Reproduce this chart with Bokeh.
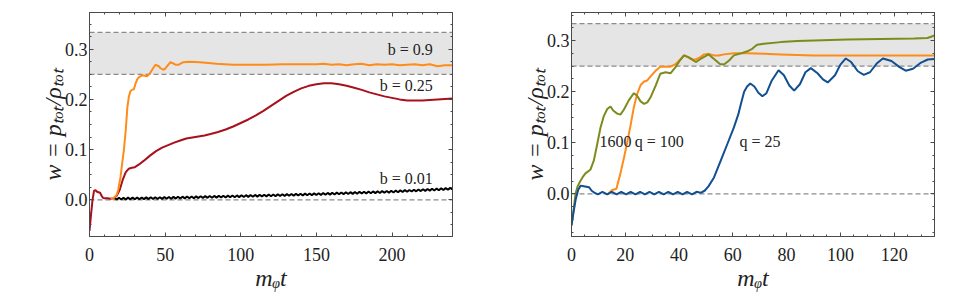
from bokeh.plotting import figure
from bokeh.layouts import row
from bokeh.models import (LinearAxis, SingleIntervalTicker, BoxAnnotation, Span,
                          Range1d, PrintfTickFormatter, Label)
from bokeh.embed import file_html
from bokeh.resources import INLINE

# ---------------- data: left panel (b values) ----------------
left_red_t = [0, 1, 2, 3, 4, 5, 6, 7, 8, 9,
              10, 12, 14, 16, 18, 20, 22, 24, 26, 28,
              30, 33, 36, 40, 44, 48, 52, 56, 60, 64,
              68, 72, 76, 80, 85, 90, 95, 100, 105, 110,
              115, 120, 125, 130, 135, 140, 145, 150, 155, 160,
              165, 170, 175, 180, 185, 190, 195, 200, 205, 210,
              215, 220, 225, 230, 235, 240]
left_red_w = [-0.062, -0.03, 0.0, 0.018, 0.019, 0.016, 0.015, 0.014, 0.008, 0.004,
              0.003, 0.003, 0.002, 0.003, 0.008, 0.02, 0.04, 0.055, 0.062, 0.064,
              0.065, 0.071, 0.078, 0.088, 0.097, 0.104, 0.109, 0.114, 0.118, 0.122,
              0.124, 0.126, 0.128, 0.131, 0.135, 0.14, 0.146, 0.153, 0.16, 0.168,
              0.177, 0.187, 0.197, 0.207, 0.215, 0.222, 0.227, 0.23, 0.232, 0.232,
              0.23, 0.227, 0.223, 0.219, 0.214, 0.21, 0.206, 0.203, 0.2, 0.198,
              0.198, 0.198, 0.199, 0.2, 0.201, 0.202]

left_orange_t = [14, 15, 16.5, 18, 19, 20.5, 21.5, 22.7, 24, 25,
                 26, 27, 28, 29.3, 30.5, 31.5, 33, 34.8, 36.5, 38,
                 40, 42, 43.6, 45.8, 47, 48.7, 50, 51.3, 53.5, 55,
                 56.8, 59, 62, 66, 73, 84, 95, 105, 117, 128,
                 139, 150, 155, 160, 165, 170, 175, 180, 185, 190,
                 195, 200, 205, 210, 215, 220, 225, 230, 235, 240]
left_orange_w = [0.002, 0.003, 0.005, 0.01, 0.02, 0.045, 0.07, 0.098, 0.14, 0.183,
                 0.205, 0.216, 0.219, 0.22, 0.232, 0.24, 0.245, 0.248, 0.247, 0.246,
                 0.252, 0.262, 0.269, 0.266, 0.262, 0.259, 0.261, 0.266, 0.274, 0.272,
                 0.269, 0.269, 0.274, 0.275, 0.274, 0.271, 0.269, 0.269, 0.269, 0.27,
                 0.27, 0.27, 0.271, 0.269, 0.27, 0.268, 0.27, 0.271, 0.268, 0.27,
                 0.269, 0.27, 0.268, 0.269, 0.27, 0.268, 0.27, 0.266, 0.268, 0.268]

left_black_t = [16.5, 18.0, 19.5, 21.0, 22.5, 24.0, 25.5, 27.0, 28.5, 30.0,
                31.5, 33.0, 34.5, 36.0, 37.5, 39.0, 40.5, 42.0, 43.5, 45.0,
                46.5, 48.0, 49.5, 51.0, 52.5, 54.0, 55.5, 57.0, 58.5, 60.0,
                61.5, 63.0, 64.5, 66.0, 67.5, 69.0, 70.5, 72.0, 73.5, 75.0,
                76.5, 78.0, 79.5, 81.0, 82.5, 84.0, 85.5, 87.0, 88.5, 90.0,
                91.5, 93.0, 94.5, 96.0, 97.5, 99.0, 100.5, 102.0, 103.5, 105.0,
                106.5, 108.0, 109.5, 111.0, 112.5, 114.0, 115.5, 117.0, 118.5, 120.0,
                121.5, 123.0, 124.5, 126.0, 127.5, 129.0, 130.5, 132.0, 133.5, 135.0,
                136.5, 138.0, 139.5, 141.0, 142.5, 144.0, 145.5, 147.0, 148.5, 150.0,
                151.5, 153.0, 154.5, 156.0, 157.5, 159.0, 160.5, 162.0, 163.5, 165.0,
                166.5, 168.0, 169.5, 171.0, 172.5, 174.0, 175.5, 177.0, 178.5, 180.0,
                181.5, 183.0, 184.5, 186.0, 187.5, 189.0, 190.5, 192.0, 193.5, 195.0,
                196.5, 198.0, 199.5, 201.0, 202.5, 204.0, 205.5, 207.0, 208.5, 210.0,
                211.5, 213.0, 214.5, 216.0, 217.5, 219.0, 220.5, 222.0, 223.5, 225.0,
                226.5, 228.0, 229.5, 231.0, 232.5, 234.0, 235.5, 237.0, 238.5, 240.0]
left_black_w = [0.0040, 0.0006, 0.0041, 0.0007, 0.0043, 0.0008, 0.0044, 0.0010, 0.0045, 0.0011,
                0.0047, 0.0012, 0.0048, 0.0014, 0.0049, 0.0015, 0.0051, 0.0016, 0.0052, 0.0018,
                0.0053, 0.0019, 0.0055, 0.0021, 0.0057, 0.0023, 0.0059, 0.0025, 0.0061, 0.0027,
                0.0063, 0.0029, 0.0065, 0.0031, 0.0067, 0.0033, 0.0069, 0.0035, 0.0071, 0.0038,
                0.0074, 0.0040, 0.0076, 0.0042, 0.0078, 0.0044, 0.0080, 0.0046, 0.0082, 0.0048,
                0.0084, 0.0050, 0.0086, 0.0052, 0.0088, 0.0054, 0.0090, 0.0057, 0.0093, 0.0059,
                0.0095, 0.0061, 0.0098, 0.0064, 0.0100, 0.0066, 0.0102, 0.0069, 0.0105, 0.0071,
                0.0107, 0.0073, 0.0110, 0.0076, 0.0112, 0.0078, 0.0114, 0.0081, 0.0117, 0.0083,
                0.0119, 0.0085, 0.0122, 0.0088, 0.0124, 0.0090, 0.0126, 0.0093, 0.0129, 0.0095,
                0.0132, 0.0098, 0.0135, 0.0101, 0.0138, 0.0104, 0.0141, 0.0107, 0.0144, 0.0110,
                0.0147, 0.0113, 0.0150, 0.0116, 0.0153, 0.0119, 0.0156, 0.0122, 0.0159, 0.0125,
                0.0162, 0.0128, 0.0165, 0.0131, 0.0168, 0.0134, 0.0171, 0.0137, 0.0174, 0.0140,
                0.0177, 0.0143, 0.0180, 0.0147, 0.0184, 0.0151, 0.0188, 0.0156, 0.0193, 0.0160,
                0.0197, 0.0165, 0.0202, 0.0169, 0.0206, 0.0174, 0.0211, 0.0178, 0.0215, 0.0183,
                0.0220, 0.0187, 0.0224, 0.0192, 0.0229, 0.0196, 0.0233, 0.0201, 0.0238, 0.0205]

left_labels = ["b = 0.9", "b = 0.25", "b = 0.01"]

# ---------------- data: right panel (q values) ----------------
right_blue_t = [0, 0.8, 1.6, 2.5, 3.4, 4.5, 5.5, 6.5, 7.5, 8.3,
                9.8, 11.5, 13.3, 15.0, 16.8, 18.5, 20.3, 22.0, 23.8, 25.5,
                27.3, 29.0, 30.8, 32.5, 34.3, 36.0, 37.8, 39.5, 41.3, 43.0,
                44.8, 46.5, 48.0, 49.5, 51.0, 53.0, 55.5, 58.0, 60.4, 62.0,
                63.0, 64.2, 65.3, 66.5, 68.0, 69.5, 71.0, 72.5, 74.5, 77.0,
                79.0, 81.0, 82.8, 85.0, 87.0, 89.0, 91.5, 93.5, 95.3, 98.0,
                100, 102, 104, 106.5, 108.7, 111, 113.5, 115.8, 119, 122,
                124.3, 127, 130, 132.5, 135]
right_blue_w = [-0.062, -0.035, -0.01, 0.008, 0.016, 0.015, 0.014, 0.013, 0.006, 0.003,
                -0.001, 0.004, -0.001, 0.004, -0.001, 0.004, -0.001, 0.004, -0.001, 0.004,
                -0.001, 0.004, -0.001, 0.004, -0.001, 0.004, -0.001, 0.004, -0.001, 0.004,
                -0.001, 0.004, 0.002, 0.006, 0.015, 0.032, 0.065, 0.098, 0.13, 0.155,
                0.176, 0.2, 0.21, 0.216, 0.21, 0.198, 0.191, 0.197, 0.222, 0.242,
                0.232, 0.212, 0.202, 0.215, 0.238, 0.246, 0.236, 0.224, 0.218, 0.232,
                0.253, 0.265, 0.258, 0.24, 0.233, 0.238, 0.255, 0.265, 0.26, 0.248,
                0.241, 0.245, 0.257, 0.263, 0.264]

right_orange_t = [13.6, 15, 16.7, 18.2, 19.5, 20.7, 22, 23.2, 24.4, 25.7,
                  27, 28.2, 29.4, 31.3, 33, 35, 36.8, 38.7, 40.6, 42,
                  43.7, 45.5, 47.4, 49.3, 51, 53, 54.8, 56.7, 60.4, 65.4,
                  71.6, 77.8, 90, 102.6, 115, 127.4, 135]
right_orange_w = [0.0, 0.007, 0.01, 0.04, 0.07, 0.1, 0.135, 0.17, 0.195, 0.213,
                  0.22, 0.222, 0.23, 0.241, 0.249, 0.249, 0.249, 0.254, 0.264, 0.271,
                  0.266, 0.262, 0.266, 0.273, 0.274, 0.271, 0.271, 0.273, 0.275, 0.275,
                  0.274, 0.273, 0.271, 0.271, 0.271, 0.271, 0.271]

right_olive_t = [0, 0.8, 1.5, 2.3, 3.3, 4.2, 5.2, 7, 8.3, 9.6,
                 10.8, 12, 13.3, 14.5, 15.5, 17, 18.2, 19.5, 21.3, 23.2,
                 24.4, 25.7, 27, 28.2, 29.4, 31.3, 33, 35, 36.8, 38.7,
                 40.3, 41.8, 43.7, 46.2, 48, 51, 53, 55.2, 56.7, 58.6,
                 60.4, 63, 65.4, 67.2, 69, 71.6, 77.8, 84, 90.2, 96.4,
                 102.6, 115, 127.4, 132.4, 135]
right_olive_w = [-0.062, -0.03, 0.0, 0.015, 0.025, 0.033, 0.04, 0.047, 0.065, 0.098,
                 0.13, 0.152, 0.166, 0.171, 0.163, 0.157, 0.155, 0.165, 0.183, 0.197,
                 0.192, 0.181, 0.176, 0.179, 0.189, 0.212, 0.235, 0.238, 0.236, 0.248,
                 0.261, 0.271, 0.267, 0.258, 0.264, 0.273, 0.264, 0.254, 0.253, 0.261,
                 0.271, 0.275, 0.279, 0.284, 0.292, 0.294, 0.297, 0.299, 0.3, 0.301,
                 0.302, 0.303, 0.304, 0.305, 0.31]

right_labels = ["1600", "q = 100", "q = 25"]

band_low, band_high = 0.25, 1 / 3
ref_lines = [0.0, 0.25, 1 / 3]

# ---------------- styling helpers ----------------
SERIF = "Liberation Serif"
FRAME = "#4a4a4a"


def make_fig(width, xr, yr, xint, xminor, bl, br):
    p = figure(width=width, height=303, x_range=Range1d(*xr), y_range=Range1d(*yr),
               output_backend="svg", toolbar_location=None,
               min_border_left=bl, min_border_right=br,
               min_border_top=12, min_border_bottom=67,
               background_fill_color="white", border_fill_color="white")
    p.grid.visible = False
    p.outline_line_color = FRAME
    p.outline_line_width = 1
    xt = SingleIntervalTicker(interval=xint, num_minor_ticks=xminor)
    yt = SingleIntervalTicker(interval=0.1, num_minor_ticks=4)
    p.xaxis.ticker = xt
    p.yaxis.ticker = yt
    p.yaxis.formatter = PrintfTickFormatter(format="%.1f")
    for ax in (p.xaxis[0], p.yaxis[0]):
        ax.axis_line_color = FRAME
        ax.major_tick_line_color = FRAME
        ax.minor_tick_line_color = FRAME
        ax.major_tick_in = 4
        ax.major_tick_out = 0
        ax.minor_tick_in = 2
        ax.minor_tick_out = 0
        ax.major_label_text_font = SERIF
        ax.major_label_text_font_size = "18px"
        ax.major_label_text_color = "#222222"
        ax.axis_label_text_font = SERIF
        ax.axis_label_text_font_size = "24px"
        ax.axis_label_text_font_style = "italic"
        ax.axis_label_text_color = "#222222"
    p.xaxis.major_label_standoff = 11
    p.yaxis.major_label_standoff = 2
    p.xaxis.axis_label = "mᵩt"
    p.yaxis.axis_label = "w = pₜₒₜ/ρₜₒₜ"
    p.xaxis.axis_label_standoff = 1
    p.yaxis.axis_label_standoff = -4
    for loc, t in (("above", xt), ("right", yt)):
        ax = LinearAxis(ticker=t, axis_line_color=FRAME, major_tick_line_color=FRAME,
                        minor_tick_line_color=FRAME, major_tick_in=4, major_tick_out=0,
                        minor_tick_in=2, minor_tick_out=0,
                        major_label_text_color=None, major_label_standoff=0)
        p.add_layout(ax, loc)
    p.add_layout(BoxAnnotation(bottom=band_low, top=band_high, fill_color="#e5e5e5",
                               fill_alpha=1, line_alpha=0, level="underlay"))
    for v in ref_lines:
        p.add_layout(Span(location=v, dimension="width", line_color="#8a8a8a",
                          line_width=1.3, line_dash="5 3", level="underlay"))
    return p


def add_label(p, x, y, text, align):
    p.add_layout(Label(x=x, y=y, text=text, text_align=align, text_baseline="middle",
                       text_font=SERIF, text_font_size="16px", text_color="#222222"))


# ---------------- left panel ----------------
p1 = make_fig(480, (0, 240), (-0.073, 0.373), 50, 5, 89, 28)
p1.line(left_black_t, left_black_w, line_color="black", line_width=2)
p1.line(left_red_t, left_red_w, line_color="#a8101c", line_width=2)
p1.line(left_orange_t, left_orange_w, line_color="#ff8c1a", line_width=2)
add_label(p1, 227, 0.299, left_labels[0], "right")
add_label(p1, 227, 0.227, left_labels[1], "right")
add_label(p1, 227, 0.042, left_labels[2], "right")

# ---------------- right panel ----------------
p2 = make_fig(489, (0, 135), (-0.0836, 0.355), 20, 4, 91, 35)
p2.line(right_orange_t, right_orange_w, line_color="#ff8c1a", line_width=2)
p2.line(right_olive_t, right_olive_w, line_color="#7d8b1c", line_width=2)
p2.line(right_blue_t, right_blue_w, line_color="#114f91", line_width=2)
add_label(p2, 10.4, 0.102, right_labels[0], "left")
add_label(p2, 23.5, 0.102, right_labels[1], "left")
add_label(p2, 62.5, 0.102, right_labels[2], "left")

layout = row(p1, p2)
open("out.html", "w").write(file_html(layout, INLINE))
